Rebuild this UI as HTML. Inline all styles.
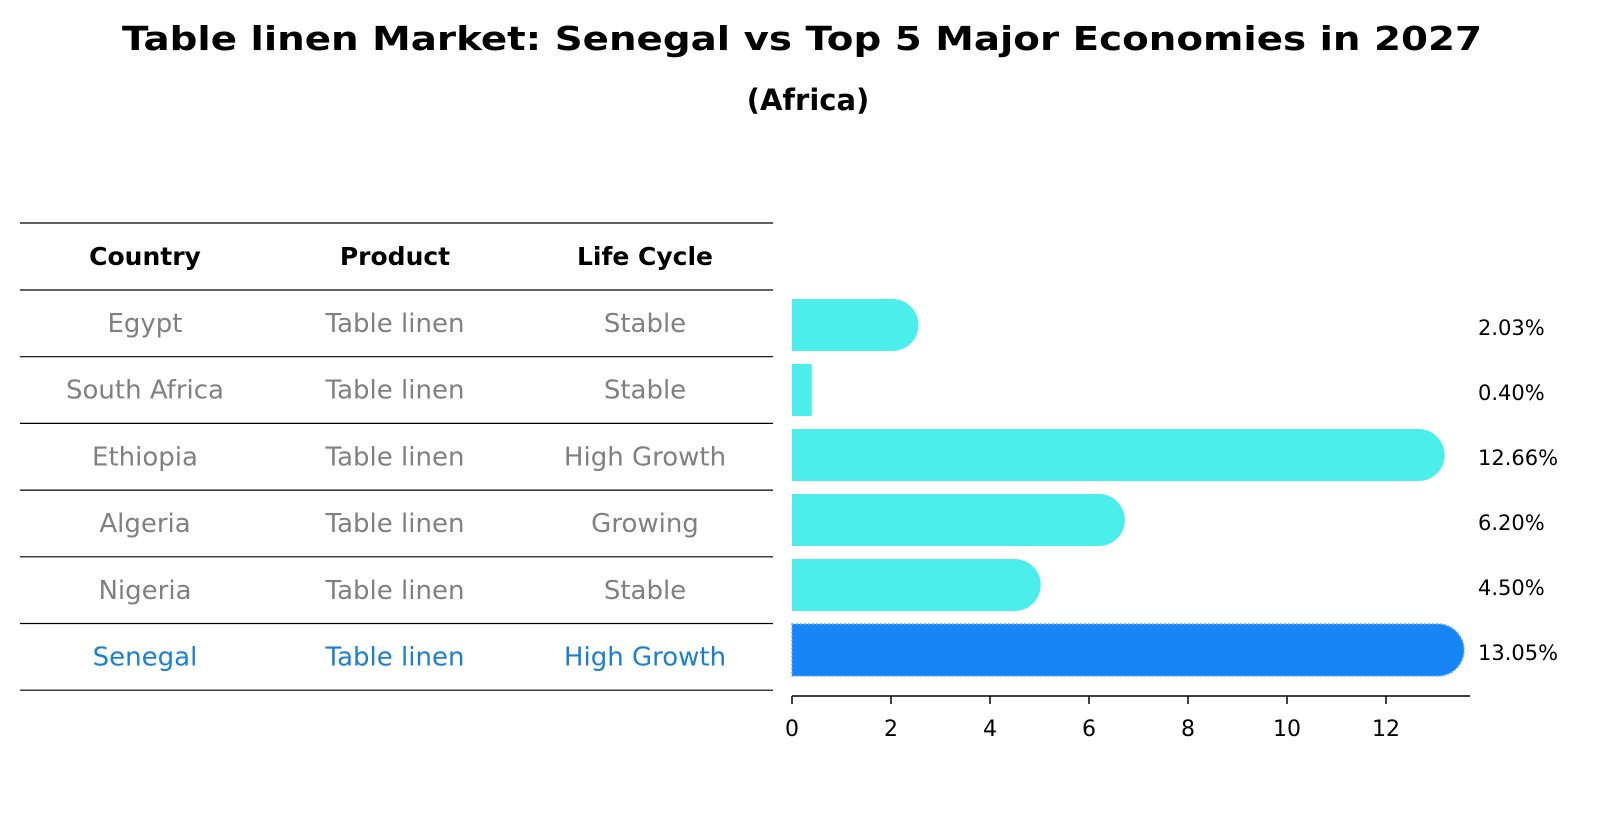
<!DOCTYPE html>
<html><head><meta charset="utf-8"><style>
body{margin:0;background:#fff;}
svg text{font-family:"DejaVu Sans","Liberation Sans",sans-serif;}
</style></head><body>
<svg width="1604" height="823" xmlns="http://www.w3.org/2000/svg" id="chart">
<text x="802" y="50" text-anchor="middle" font-size="33" font-weight="bold" textLength="1360" lengthAdjust="spacingAndGlyphs">Table linen Market: Senegal vs Top 5 Major Economies in 2027</text>
<text x="808" y="110" text-anchor="middle" font-size="29" font-weight="bold">(Africa)</text>
<g id="table"></g>
<g id="bars"></g>
</svg>
<script>
const countries=["Egypt","South Africa","Ethiopia","Algeria","Nigeria","Senegal"];
const products=["Table linen","Table linen","Table linen","Table linen","Table linen","Table linen"];
const lifeCycles=["Stable","Stable","High Growth","Growing","Stable","High Growth"];
const values=[2.03,0.40,12.66,6.20,4.50,13.05];
const tickLabels=[0,2,4,6,8,10,12];
const NS="http://www.w3.org/2000/svg";
function mk(tag,attrs,parent){const e=document.createElementNS(NS,tag);for(const k in attrs)e.setAttribute(k,attrs[k]);parent.appendChild(e);return e;}
const x=v=>792+v*49.5;
const rowY=i=>325+i*65;
const tbl=document.getElementById('table');
const colX=[145,395,645];
const lineYs=[223,290];
for(let i=0;i<countries.length;i++)lineYs.push(290+(i+1)*66.7);
lineYs.forEach((ly,i)=>{const l=mk('line',{x1:20,x2:773,y1:ly,y2:ly,stroke:'#000','stroke-width':1.2},tbl);

});
["Country","Product","Life Cycle"].forEach((h,j)=>{const t=mk('text',{x:colX[j],y:265,'text-anchor':'middle','font-size':25,'font-weight':'bold'},tbl);t.textContent=h;

});
countries.forEach((c,i)=>{const cy=290+i*66.7+42;const col=i===countries.length-1?'#1a7fd4':'#808080';
[c,products[i],lifeCycles[i]].forEach((s,j)=>{const t=mk('text',{x:colX[j],y:cy,'text-anchor':'middle','font-size':26,fill:col},tbl);t.textContent=s;

});});
const g=document.getElementById('bars');
const h=52,r=26;
values.forEach((v,i)=>{const cy=rowY(i);const last=i===values.length-1;const fill=last?'#1785f5':'#4beeea';
const w=x(v)-x(0);let d;
if(w>r){d=`M${x(0)},${cy-h/2} H${x(v)} A${r},${r} 0 0 1 ${x(v)},${cy+h/2} H${x(0)} Z`;}
else{d=`M${x(0)},${cy-h/2} H${x(v)} V${cy+h/2} H${x(0)} Z`;}
const p=mk('path',{d:d,fill:fill},g);
if(last){p.setAttribute('stroke','#5aa8f7');p.setAttribute('stroke-width','1.5');p.setAttribute('stroke-dasharray','2,2');}


const t=mk('text',{x:1478,y:cy+10,'font-size':21},g);t.textContent=v.toFixed(2)+'%';

});
const ax=mk('line',{x1:x(0),x2:x(13.7),y1:696,y2:696,stroke:'#000','stroke-width':1.5},g);


tickLabels.forEach(tv=>{const tk=mk('line',{x1:x(tv),x2:x(tv),y1:696,y2:704,stroke:'#000','stroke-width':1.5},g);


const t=mk('text',{x:x(tv),y:736,'text-anchor':'middle','font-size':22},g);t.textContent=tv;

});
</script>
</body></html>
